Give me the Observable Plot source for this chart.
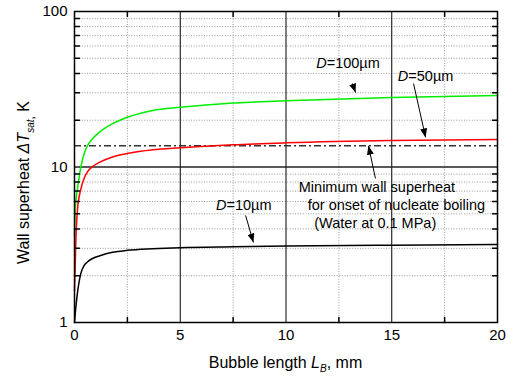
<!DOCTYPE html>
<html><head><meta charset="utf-8">
<script src="https://cdn.jsdelivr.net/npm/d3@7"></script>
<script src="https://cdn.jsdelivr.net/npm/@observablehq/plot@0.6"></script>
<style>
body{margin:0;background:#fff;}
svg{font-family:"Liberation Sans",Arial,sans-serif;}
</style></head><body><div id="chart"></div>
<script>
// Bubble length L_B (mm)
const bubbleLength = [0, 0.03, 0.06, 0.14, 0.3, 0.46, 0.61, 0.85, 1.17, 1.8, 2.5, 3.7, 5, 7.5, 10, 15, 20];
// Wall superheat (K) for each diameter
const superheatD100 = [3.6, 5.0, 5.9, 7.2, 10.0, 12.2, 13.7, 15.2, 16.7, 19.0, 20.9, 23.1, 24.2, 25.8, 26.7, 28.0, 28.8];
const superheatD50  = [1.6, 2.2, 3.2, 5.3, 7.2, 8.5, 9.3, 10.05, 10.7, 11.6, 12.2, 12.9, 13.3, 13.9, 14.3, 14.8, 15.0];
const superheatD10  = [1.0, 1.12, 1.24, 1.55, 2.07, 2.33, 2.45, 2.58, 2.68, 2.83, 2.91, 2.98, 3.03, 3.07, 3.10, 3.14, 3.17];
const onsetSuperheat = 13.7;

const xTicks = [0, 5, 10, 15, 20];
const yTicks = [1, 10, 100];
const xMajorLines = [5, 10, 15];
const xMinorLines = [2.5, 7.5, 12.5, 17.5];
const yMinorLines = [2, 3, 4, 5, 6, 7, 8, 9, 20, 30, 40, 50, 60, 70, 80, 90];

const labelText = ["D=100µm", "D=50µm", "D=10µm", "Minimum wall superheat", "for onset of nucleate boiling", "(Water at 0.1 MPa)"];
const labelX = [12.93, 16.6, 8.0, 14.30, 15.22, 14.22];
const labelY = [46.5, 38.5, 5.7, 7.37, 5.68, 4.35];

const arrowX1 = [13.14, 16.03, 14.23, 8.09];
const arrowY1 = [34.4, 34.4, 8.44, 4.88];
const arrowX2 = [13.29, 16.6, 13.9, 8.46];
const arrowY2 = [30.1, 15.5, 13.7, 3.27];

const seriesColors = ["#00ee00", "#ff0000", "#000000"];

const rows = (vals) => bubbleLength.map((L, i) => ({L, T: vals[i]}));
const labels = labelText.map((t, i) => ({t, x: labelX[i], y: labelY[i]}));
const arrows = arrowX1.map((x1, i) => ({x1, y1: arrowY1[i], x2: arrowX2[i], y2: arrowY2[i]}));

const tickShape = {draw(context, l) { context.moveTo(0, 0); context.lineTo(0, -l); }};
function filledHead(color, context) {
  const ns = "http://www.w3.org/2000/svg";
  const m = context.document.createElementNS(ns, "marker");
  m.setAttribute("viewBox", "-9 -3.5 9 7");
  m.setAttribute("markerWidth", 9);
  m.setAttribute("markerHeight", 7);
  m.setAttribute("markerUnits", "userSpaceOnUse");
  m.setAttribute("orient", "auto");
  m.setAttribute("fill", color);
  m.setAttribute("stroke", "none");
  const p = context.document.createElementNS(ns, "path");
  p.setAttribute("d", "M-9,-3.5L0,0L-9,3.5Z");
  m.appendChild(p);
  return m;
}

const grid = {stroke: "#9a9a9a", strokeDasharray: "1,1.6", strokeWidth: 1};
const plot = Plot.plot({
  width: 508, height: 381,
  marginLeft: 74, marginRight: 11, marginTop: 11, marginBottom: 59,
  style: {fontFamily: "Liberation Sans, Arial, sans-serif", fontSize: "14px", background: "#fff"},
  x: {domain: [0, 20]},
  y: {type: "log", domain: [1, 100]},
  marks: [
    Plot.ruleX(xMinorLines, grid),
    Plot.ruleY(yMinorLines, grid),
    Plot.ruleX(xMajorLines, {stroke: "#000", strokeWidth: 1}),
    Plot.ruleY([10], {stroke: "#222", strokeWidth: 1.3}),
    Plot.ruleY([onsetSuperheat], {stroke: "#333", strokeWidth: 1.6, strokeDasharray: "7,3,2,3"}),
    Plot.line(rows(superheatD100), {x: "L", y: "T", stroke: seriesColors[0], strokeWidth: 1.5, curve: "monotone-x"}),
    Plot.line(rows(superheatD50), {x: "L", y: "T", stroke: seriesColors[1], strokeWidth: 1.5, curve: "monotone-x"}),
    Plot.line(rows(superheatD10), {x: "L", y: "T", stroke: seriesColors[2], strokeWidth: 1.5, curve: "monotone-x"}),
    // inward minor ticks
    Plot.vector(xMinorLines, {x: d => d, y: yTicks[0], length: 5, rotate: 0, anchor: "start", shape: tickShape, stroke: "#000"}),
    Plot.vector(xMinorLines, {x: d => d, y: yTicks[2], length: 5, rotate: 180, anchor: "start", shape: tickShape, stroke: "#000"}),
    Plot.vector(yMinorLines, {x: xTicks[0], y: d => d, length: 5, rotate: 90, anchor: "start", shape: tickShape, stroke: "#000"}),
    Plot.vector(yMinorLines, {x: xTicks[4], y: d => d, length: 5, rotate: -90, anchor: "start", shape: tickShape, stroke: "#000"}),
    Plot.axisX(xTicks, {anchor: "bottom", tickSize: 0, tickPadding: 7, fontSize: 15, label: null}),
    Plot.axisY(yTicks, {anchor: "left", tickSize: 0, tickPadding: 7, fontSize: 15, label: null, tickFormat: d => String(d)}),
    Plot.link(arrows, {x1: "x1", y1: "y1", x2: "x2", y2: "y2", stroke: "#000", strokeWidth: 1, markerEnd: filledHead}),
    Plot.text(labels, {x: "x", y: "y", text: "t", fontSize: 14.5, fill: "#000", textAnchor: "middle"}),
    Plot.frame({stroke: "#000", strokeWidth: 1.5})
  ]
});
document.getElementById("chart").appendChild(plot);

const svg = d3.select(plot);
// italic D in labels
svg.selectAll("text").each(function() {
  const s = this.textContent;
  if (/^D=/.test(s)) {
    const t = d3.select(this);
    t.text(null);
    t.append("tspan").attr("font-style", "italic").text("D");
    t.append("tspan").text(s.slice(1));
  }
});
// axis titles
const xr = plot.scale("x").range, yr = plot.scale("y").range;
const xt = svg.append("text").attr("x", (xr[0] + xr[1]) / 2).attr("y", 368)
  .attr("text-anchor", "middle").attr("font-size", 16).attr("fill", "#000");
xt.append("tspan").text("Bubble length ");
xt.append("tspan").attr("font-style", "italic").text("L");
xt.append("tspan").attr("font-style", "italic").attr("font-size", 10).attr("dy", 4).text("B");
xt.append("tspan").attr("dy", -4).text(", mm");

const yt = svg.append("text").attr("transform", `translate(29,${(yr[0] + yr[1]) / 2 + 16}) rotate(-90)`)
  .attr("text-anchor", "middle").attr("font-size", 16).attr("fill", "#000");
yt.append("tspan").text("Wall superheat ");
yt.append("tspan").attr("font-style", "italic").text("ΔT");
yt.append("tspan").attr("font-style", "italic").attr("font-size", 10).attr("dy", 5).text("sat");
yt.append("tspan").attr("font-size", 12).text(",");
yt.append("tspan").attr("dy", -5).text(" K");
</script></body></html>
